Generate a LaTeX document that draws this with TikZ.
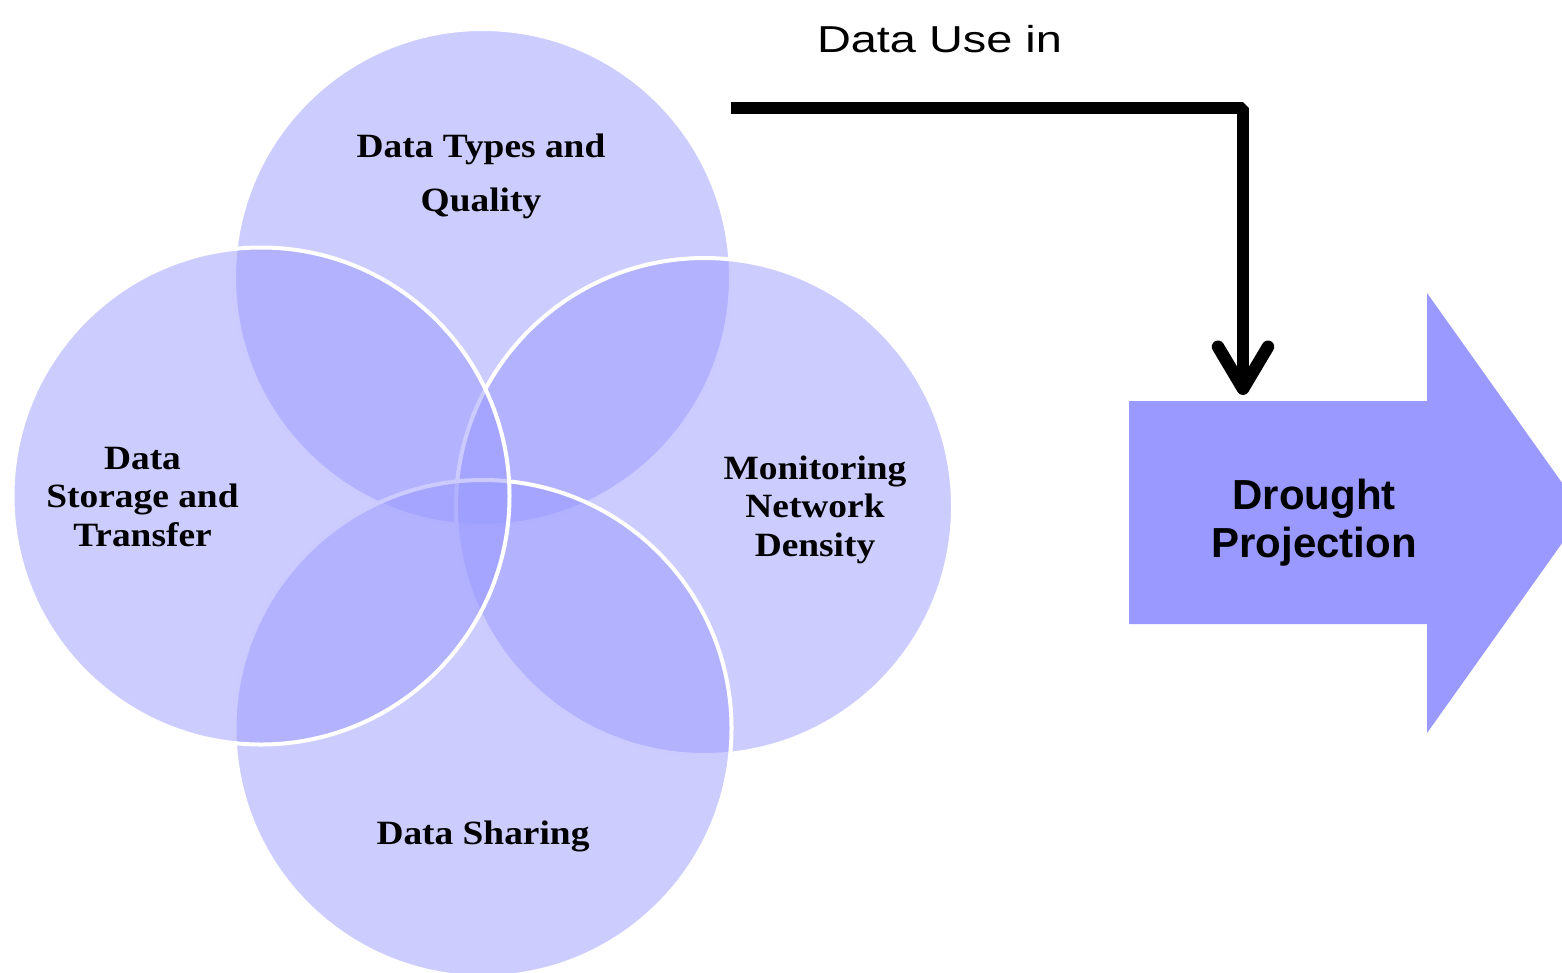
\documentclass[tikz,border=0pt]{standalone}
\usepackage{fontspec}
\usetikzlibrary{arrows.meta}
\newfontfamily\vennfont[FakeStretch=1.1]{Liberation Serif}
\newfontfamily\arialfont{Liberation Sans}
\definecolor{venn}{HTML}{9999FF}
\begin{document}
\begin{tikzpicture}[x=1pt,y=-1pt,
  venncirc/.style={circle, minimum size=497pt, inner sep=0pt, draw=white, line width=4pt, fill=venn, fill opacity=0.5},
  venntext/.style={font=\vennfont\bfseries\fontsize{34}{38.5}\selectfont, align=center, inner sep=0pt, text=black},
  conn/.style={line width=12.5pt, line join=bevel, -{Straight Barb[length=42pt,width=50pt,round]}, shorten >=6pt}
]
\useasboundingbox (0,0) rectangle (1562,972);
% Venn circles (drawing order matters for the white outlines)
\node[venncirc] (ctop) at (482.5,277.5) {};
\node[venncirc] (cright) at (704.5,506.5) {};
\node[venncirc] (cbottom) at (483,728.5) {};
\node[venncirc] (cleft) at (261,496) {};
% labels
\node[venntext, font=\vennfont\bfseries\fontsize{34}{54}\selectfont] (ttop) at (481,176.5) {Data Types and\\Quality};
\node[venntext] (tleft) at (142.5,497) {Data\\Storage and\\Transfer};
\node[venntext] (tright) at (815,509.5) {Monitoring\\Network\\Density};
\node[venntext] (tbottom) at (483,836) {Data Sharing};
% big arrow
\fill[venn] (1129,401) -- (1427,401) -- (1427,293) -- (1583.5,513) -- (1427,733) -- (1427,624) -- (1129,624) -- cycle;
\node[font=\arialfont\bfseries\fontsize{42}{48}\selectfont, align=center, inner sep=0pt] (proj) at (1314,523) {Drought\\Projection};
% title
\node[font=\arialfont\fontsize{37.5}{45}\selectfont, anchor=base, inner sep=0pt] (title) at (939.5,52) {\scalebox{1.25}[1]{Data Use in}};
% connector
\coordinate (lstart) at (731,108);
\coordinate (drop) at (1243,401);
\draw[conn] (lstart) -- (lstart -| drop) -- (drop);
\end{tikzpicture}
\end{document}
